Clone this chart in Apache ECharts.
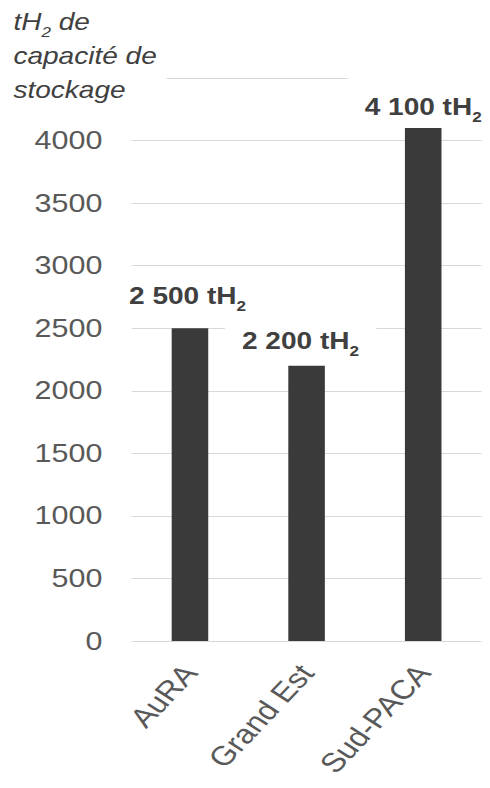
<!DOCTYPE html>
<html>
<head>
<meta charset="utf-8">
<script src="https://cdn.jsdelivr.net/npm/echarts@6/dist/echarts.min.js"></script>
<style>
  html, body { margin: 0; padding: 0; background: #fff; overflow: hidden; }
  /* the source picture is stretched sideways, so draw narrow and stretch */
  #chart { width: 402px; height: 788px; transform: scaleX(1.219); transform-origin: 0 0; }
</style>
</head>
<body>
<div id="chart"></div>
<script>
const regions = ['AuRA', 'Grand Est', 'Sud-PACA']
const capacity = [2500, 2200, 4100]
const yMin = 0
const yMax = 4500
const yStep = 500

// label tweaks per bar: [dx, distance, padTop]
const labelTweak = [[-2, 13, 6], [-5, 6, 6], [0, 2, 18]]

const font = "'Liberation Sans', Arial, sans-serif"

function fmt(v) {
  return String(v).replace(/\B(?=(\d{3})+(?!\d))/g, ' ')
}

const chart = echarts.init(document.getElementById('chart'), null, { renderer: 'svg' })

chart.setOption({
  animation: false,
  title: {
    left: 9,
    top: 3,
    padding: [2, 8, 0, 2],
    backgroundColor: '#fff',
    text: '{i|tH}{s|2}{i| de}\n{i|capacité de}\n{i|stockage}',
    textStyle: {
      fontWeight: 'normal',
      rich: {
        i: { fontFamily: font, fontStyle: 'italic', fontWeight: 'normal', fontSize: 23, lineHeight: 34, color: '#404040' },
        s: { fontFamily: font, fontStyle: 'italic', fontWeight: 'normal', fontSize: 14, lineHeight: 14, padding: [20, 0, 0, 0], color: '#404040' }
      }
    }
  },
  grid: { left: 108, right: 7, top: 78, bottom: 147 },
  xAxis: {
    type: 'category',
    data: regions,
    axisLine: { show: false },
    axisTick: { show: false },
    axisLabel: {
      rotate: 52,
      margin: 27,
      fontSize: 27,
      fontFamily: font,
      color: '#595959',
      interval: 0
    }
  },
  yAxis: {
    type: 'value',
    min: yMin,
    max: yMax,
    interval: yStep,
    axisLine: { show: false },
    axisTick: { show: false },
    splitLine: { lineStyle: { color: '#d9d9d9', width: 1 } },
    axisLabel: {
      showMaxLabel: false,
      margin: 24,
      fontSize: 25,
      fontFamily: font,
      color: '#595959',
      formatter: v => String(v)
    }
  },
  series: [{
    type: 'bar',
    barWidth: 30,
    itemStyle: { color: '#3a3a3a' },
    data: capacity.map((v, i) => ({
      value: v,
      label: {
        offset: [labelTweak[i][0], 0],
        distance: labelTweak[i][1],
        padding: [labelTweak[i][2], 14, 2, 14]
      }
    })),
    label: {
      show: true,
      position: 'top',
      backgroundColor: '#fff',
      formatter: p => '{b|' + fmt(p.value) + ' tH}{s|2}',
      rich: {
        b: { fontFamily: font, fontWeight: 'bold', fontSize: 23, lineHeight: 34, color: '#404040' },
        s: { fontFamily: font, fontWeight: 'bold', fontSize: 14, lineHeight: 14, padding: [20, 0, 0, 0], color: '#404040' }
      }
    }
  }]
})
</script>
</body>
</html>
